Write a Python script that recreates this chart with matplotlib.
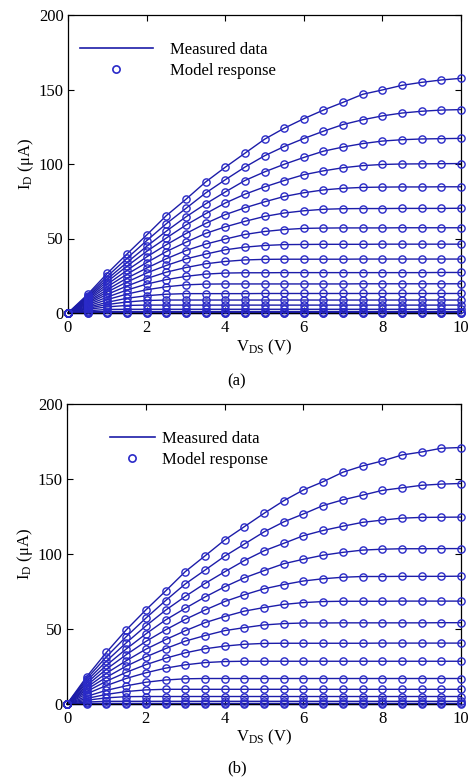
import matplotlib
matplotlib.use('Agg')
import matplotlib.pyplot as plt
from matplotlib.lines import Line2D

plt.rcParams['font.family'] = ['Liberation Serif', 'DejaVu Serif']
plt.rcParams['mathtext.fontset'] = 'custom'
plt.rcParams['mathtext.rm'] = 'Liberation Serif'
plt.rcParams['mathtext.it'] = 'Liberation Serif:italic'

# drain voltage steps (V)
vds = [0, 0.5, 1, 1.5, 2, 2.5, 3, 3.5, 4, 4.5, 5, 5.5, 6, 6.5, 7, 7.5, 8, 8.5, 9, 9.5, 10]

# panel (a) drain current curves (uA), one per gate voltage
ia01 = [0, 12.5, 26.6, 39.6, 52.3, 65.3, 76.3, 87.9, 97.8, 107.2, 116.6, 124.0, 130.4, 136.2, 141.4, 146.8, 149.7, 152.8, 154.8, 156.4, 157.5]
ia02 = [0, 11.6, 24.6, 36.7, 48.5, 59.9, 70.2, 80.5, 89.4, 97.9, 105.5, 111.7, 117.1, 122.0, 126.5, 129.7, 132.3, 134.2, 135.4, 136.2, 136.5]
ia03 = [0, 10.8, 22.8, 33.9, 44.7, 54.9, 64.5, 73.2, 81.2, 88.9, 94.7, 99.8, 104.4, 108.6, 111.4, 113.7, 115.4, 116.3, 116.8, 117.0, 117.2]
ia04 = [0, 10.1, 21.1, 31.4, 41.3, 50.3, 59.0, 66.6, 73.8, 79.7, 84.6, 88.9, 92.8, 95.4, 97.5, 98.9, 99.7, 100.0, 100.1, 100.2, 100.3]
ia05 = [0, 9.4, 19.3, 28.6, 37.6, 45.8, 53.3, 60.1, 66.0, 70.6, 74.6, 78.2, 80.7, 82.6, 83.7, 84.3, 84.5, 84.6, 84.6, 84.7, 84.7]
ia06 = [0, 8.6, 17.6, 26.0, 33.8, 41.2, 47.5, 53.4, 57.8, 61.5, 64.8, 67.1, 68.6, 69.6, 70.0, 70.1, 70.1, 70.2, 70.2, 70.2, 70.3]
ia07 = [0, 7.8, 15.7, 23.4, 30.1, 36.4, 41.9, 46.2, 49.6, 52.7, 54.7, 56.0, 56.8, 57.0, 57.1, 57.1, 57.1, 57.2, 57.2, 57.2, 57.2]
ia08 = [0, 7.1, 14.1, 20.8, 26.8, 31.9, 36.3, 39.5, 42.4, 44.2, 45.3, 45.9, 46.0, 46.1, 46.1, 46.1, 46.2, 46.2, 46.2, 46.2, 46.2]
ia09 = [0, 6.3, 12.5, 18.1, 23.1, 27.4, 30.5, 33.0, 34.6, 35.6, 36.0, 36.1, 36.1, 36.1, 36.1, 36.2, 36.2, 36.2, 36.2, 36.2, 36.2]
ia10 = [0, 5.5, 10.7, 15.4, 19.4, 22.4, 24.6, 26.1, 26.8, 27.0, 27.0, 27.1, 27.1, 27.1, 27.1, 27.1, 27.1, 27.1, 27.1, 27.2, 27.2]
ia11 = [0, 4.6, 9.0, 12.7, 15.6, 17.6, 18.9, 19.4, 19.5, 19.5, 19.5, 19.5, 19.5, 19.5, 19.5, 19.6, 19.6, 19.6, 19.6, 19.6, 19.6]
ia12 = [0, 3.8, 7.2, 9.9, 11.6, 12.6, 13.0, 13.0, 13.0, 13.0, 13.1, 13.1, 13.1, 13.1, 13.1, 13.1, 13.1, 13.1, 13.1, 13.1, 13.1]
ia13 = [0, 3.1, 5.7, 7.4, 8.4, 8.7, 8.7, 8.7, 8.7, 8.7, 8.7, 8.7, 8.7, 8.7, 8.7, 8.7, 8.7, 8.7, 8.7, 8.7, 8.7]
ia14 = [0, 2.4, 4.1, 5.1, 5.3, 5.3, 5.3, 5.3, 5.3, 5.3, 5.3, 5.3, 5.3, 5.3, 5.3, 5.3, 5.3, 5.3, 5.3, 5.3, 5.3]
ia15 = [0, 1.5, 2.4, 2.5, 2.5, 2.5, 2.5, 2.5, 2.5, 2.5, 2.5, 2.5, 2.5, 2.5, 2.5, 2.5, 2.5, 2.5, 2.5, 2.5, 2.5]
ia16 = [0, 0.8, 1.0, 1.0, 1.0, 1.0, 1.0, 1.0, 1.0, 1.0, 1.0, 1.0, 1.0, 1.0, 1.0, 1.0, 1.0, 1.0, 1.0, 1.0, 1.0]
ia17 = [0, 0.28, 0.3, 0.3, 0.3, 0.3, 0.3, 0.3, 0.3, 0.3, 0.3, 0.3, 0.3, 0.3, 0.3, 0.3, 0.3, 0.3, 0.3, 0.3, 0.3]
ia18 = [0, 0, 0, 0, 0, 0, 0, 0, 0, 0, 0, 0, 0, 0, 0, 0, 0, 0, 0, 0, 0]

# panel (b)
ib01 = [0, 18.2, 34.4, 49.3, 62.7, 75.3, 88.2, 98.7, 109.3, 118.2, 127.1, 135.5, 142.7, 148.2, 154.5, 158.7, 162.0, 166.0, 168.0, 170.5, 171.0]
ib02 = [0, 16.8, 31.5, 44.8, 57.2, 68.9, 80.0, 89.2, 98.5, 106.6, 114.7, 121.4, 126.7, 132.3, 136.1, 139.2, 142.4, 144.1, 145.8, 146.6, 147.0]
ib03 = [0, 15.3, 28.6, 40.7, 52.0, 62.5, 71.7, 80.3, 88.1, 95.6, 102.1, 107.1, 112.2, 115.7, 118.5, 121.1, 122.6, 123.9, 124.4, 124.5, 124.6]
ib04 = [0, 13.9, 25.8, 36.6, 46.7, 56.0, 63.8, 71.3, 78.1, 84.1, 88.9, 93.5, 96.5, 99.2, 101.1, 102.6, 103.2, 103.5, 103.5, 103.6, 103.6]
ib05 = [0, 12.4, 23.2, 32.8, 41.7, 49.4, 56.4, 62.6, 68.3, 72.8, 76.8, 79.6, 82.0, 83.5, 84.5, 85.0, 85.0, 85.1, 85.1, 85.1, 85.2]
ib06 = [0, 11.0, 20.5, 28.8, 36.5, 42.9, 48.8, 54.2, 58.3, 61.9, 64.3, 66.4, 67.6, 68.3, 68.5, 68.5, 68.5, 68.6, 68.6, 68.6, 68.6]
ib07 = [0, 9.7, 17.8, 25.2, 31.4, 36.9, 41.9, 45.6, 48.9, 50.9, 52.7, 53.6, 54.0, 54.0, 54.1, 54.1, 54.1, 54.1, 54.1, 54.2, 54.2]
ib08 = [0, 8.3, 15.2, 21.1, 26.2, 30.5, 34.1, 36.8, 38.6, 39.8, 40.4, 40.5, 40.5, 40.5, 40.5, 40.5, 40.6, 40.6, 40.6, 40.6, 40.6]
ib09 = [0, 6.8, 12.3, 17.0, 20.8, 23.9, 26.1, 27.6, 28.3, 28.5, 28.5, 28.5, 28.5, 28.5, 28.5, 28.5, 28.5, 28.5, 28.5, 28.5, 28.5]
ib10 = [0, 5.1, 9.1, 12.1, 14.5, 16.0, 16.8, 17.0, 17.0, 17.0, 17.0, 17.0, 17.0, 17.0, 17.0, 17.0, 17.0, 17.0, 17.0, 17.0, 17.0]
ib11 = [0, 3.7, 6.4, 8.3, 9.4, 9.8, 9.8, 9.8, 9.8, 9.8, 9.8, 9.8, 9.8, 9.8, 9.8, 9.8, 9.8, 9.8, 9.8, 9.8, 9.8]
ib12 = [0, 2.5, 4.1, 4.9, 5.0, 5.0, 5.0, 5.0, 5.0, 5.0, 5.0, 5.0, 5.0, 5.0, 5.0, 5.0, 5.0, 5.0, 5.0, 5.0, 5.0]
ib13 = [0, 1.3, 1.8, 1.8, 1.8, 1.8, 1.8, 1.8, 1.8, 1.8, 1.8, 1.8, 1.8, 1.8, 1.8, 1.8, 1.8, 1.8, 1.8, 1.8, 1.8]
ib14 = [0, 0.35, 0.4, 0.4, 0.4, 0.4, 0.4, 0.4, 0.4, 0.4, 0.4, 0.4, 0.4, 0.4, 0.4, 0.4, 0.4, 0.4, 0.4, 0.4, 0.4]
ib15 = [0, 0, 0, 0, 0, 0, 0, 0, 0, 0, 0, 0, 0, 0, 0, 0, 0, 0, 0, 0, 0]

curves_a = [ia01, ia02, ia03, ia04, ia05, ia06, ia07, ia08, ia09, ia10, ia11, ia12, ia13, ia14, ia15, ia16, ia17, ia18]
curves_b = [ib01, ib02, ib03, ib04, ib05, ib06, ib07, ib08, ib09, ib10, ib11, ib12, ib13, ib14, ib15]

line_col = '#1c1ca8'
mark_col = '#2a2ac8'
fs = 12

W, H = 468, 777
fig = plt.figure(figsize=(W / 100, H / 100), dpi=100)


def px_axes(l, t, r, b):
    return fig.add_axes([l / W, 1 - b / H, (r - l) / W, (b - t) / H])


def draw_panel(ax, curves, leg_x, leg_y, hlen, hpad):
    for c in curves:
        ax.plot(vds, c, '-', color=line_col, lw=1.0, clip_on=False, zorder=2)
        ax.plot(vds, c, 'o', mfc='none', mec=mark_col, mew=1.0, ms=5.2,
                clip_on=False, zorder=3)
    ax.set_xlim(0, 10)
    ax.set_ylim(0, 200)
    ax.set_xticks([0, 2, 4, 6, 8, 10])
    ax.set_yticks([0, 50, 100, 150, 200])
    ax.tick_params(direction='in', top=True, right=True, length=4, width=0.8,
                   labelsize=fs, pad=3)
    ax.tick_params(axis='x', pad=5)
    for s in ax.spines.values():
        s.set_linewidth(0.9)
    ax.set_ylabel('I$_{\\rm D}$ (μA)', fontsize=fs, labelpad=2)
    h1 = Line2D([], [], color=line_col, lw=1.2)
    h2 = Line2D([], [], ls='none', marker='o', mfc='none', mec=mark_col, mew=1.2, ms=5.2)
    ax.legend([h1, h2], ['Measured data', 'Model response'], loc='upper left',
              bbox_to_anchor=(leg_x, leg_y), frameon=False, fontsize=fs,
              handlelength=hlen, handletextpad=hpad, borderpad=0,
              borderaxespad=0, labelspacing=0.27)


ax_a = px_axes(68, 15, 461, 313)
draw_panel(ax_a, curves_a, 0.03, 0.909, 4.4, 1.0)
ax_b = px_axes(67, 404, 461, 704)
draw_panel(ax_b, curves_b, 0.109, 0.91, 2.7, 0.45)

fig.text(264 / W, 1 - 347 / H, r'V$_{\rm DS}$ (V)', ha='center', va='center', fontsize=fs)
fig.text(237 / W, 1 - 381 / H, '(a)', ha='center', va='center', fontsize=fs)
fig.text(264 / W, 1 - 737 / H, r'V$_{\rm DS}$ (V)', ha='center', va='center', fontsize=fs)
fig.text(237 / W, 1 - 768 / H, '(b)', ha='center', va='center', fontsize=fs)

fig.savefig('out.png', dpi=100)
